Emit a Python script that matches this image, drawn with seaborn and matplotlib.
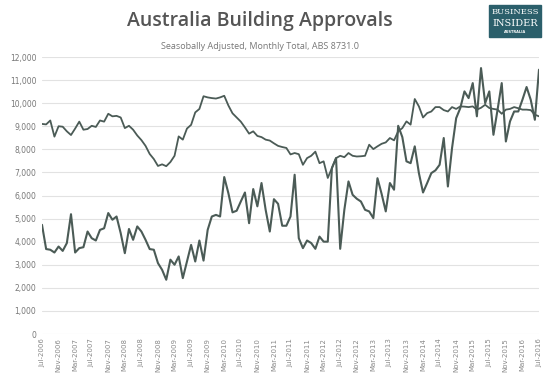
import numpy as np
import pandas as pd
import matplotlib
matplotlib.use('Agg')
import matplotlib.pyplot as plt
import seaborn as sns

# monthly values, Jul-2006 .. Jul-2016
trend = [9100, 9080, 9250, 8550, 9000, 8980, 8780, 8620, 8900, 9200,
         8850, 8880, 9020, 8970, 9250, 9200, 9540, 9430, 9450, 9380,
         8920, 9020, 8850, 8600, 8400, 8150, 7800, 7580, 7280, 7350,
         7270, 7450, 7720, 8560, 8420, 8900, 9060, 9600, 9750, 10300,
         10250, 10220, 10200, 10250, 10320, 9900, 9560, 9380, 9200, 8950,
         8680, 8780, 8580, 8530, 8420, 8380, 8260, 8150, 8100, 8060,
         7780, 7840, 7790, 7330, 7620, 7720, 7900, 7400, 7480, 6760,
         7190, 7620, 7720, 7660, 7840, 7720, 7690, 7700, 7720, 8200,
         8010, 8130, 8240, 8300, 8490, 8390, 8780, 8920, 9210, 9070,
         10180, 9860, 9380, 9570, 9640, 9830, 9830, 9700, 9640, 9830,
         9750, 9860, 9850, 9830, 9860, 9720, 9800, 9930, 9790, 9750,
         9720, 9540, 9720, 9750, 9830, 9780, 9720, 9720, 9700, 9500,
         9430]

apartments = [4730, 3680, 3650, 3530, 3790, 3600, 3940, 5190, 3530, 3720,
              3760, 4440, 4150, 4050, 4510, 4580, 5240, 4950, 5090, 4370,
              3500, 4550, 4080, 4660, 4440, 4080, 3680, 3650, 3070, 2780,
              2350, 3220, 3000, 3360, 2420, 3140, 3860, 3140, 4050, 3180,
              4510, 5090, 5160, 5090, 6800, 6100, 5270, 5340, 5740, 6130,
              4800, 6280, 5530, 6540, 5380, 4440, 5840, 5640, 4690, 4690,
              5090, 6900, 4150, 3720, 4050, 3940, 3690, 4220, 4000, 4000,
              7190, 7620, 3690, 5380, 6610, 6030, 5860, 5740, 5380, 5310,
              5020, 6750, 6070, 5310, 6540, 6250, 9020, 8530, 7480, 7400,
              8130, 6970, 6130, 6540, 6970, 7090, 7330, 8490, 6390, 8050,
              9350, 9790, 10510, 10220, 10870, 9430, 11520, 10000, 10510, 8630,
              9720, 10870, 8340, 9210, 9640, 9640, 10150, 10700, 10150, 9280,
              11450]

months = pd.date_range('2006-07-01', '2016-07-01', freq='MS')
tick_labels = [d.strftime('%b-%Y') for d in months[::4]]

df = pd.DataFrame({'m': np.arange(len(months)), 'trend': trend, 'apartments': apartments})

sns.set_style('white')
fig = plt.figure(figsize=(5.5, 3.73), dpi=100)
ax = fig.add_axes([42 / 550, 1 - 334 / 373, 497 / 550, 277 / 373])

line_col = '#4b5b56'
sns.lineplot(data=df, x='m', y='trend', ax=ax, color=line_col, lw=1.3)
sns.lineplot(data=df, x='m', y='apartments', ax=ax, color=line_col, lw=1.5)

ax.set_xlim(0, 120)
ax.set_ylim(0, 12000)
ax.set_yticks(range(0, 12001, 1000))
ax.set_yticklabels([f'{v:,}' for v in range(0, 12001, 1000)], fontsize=5.5, color='#777777')
ax.set_xticks(df['m'][::4])
ax.set_xticklabels(tick_labels, rotation=90, fontsize=5, color='#888888')
ax.tick_params(axis='y', length=0, pad=4)
ax.tick_params(axis='x', length=0, pad=3)
ax.yaxis.grid(True, color='#e2e2e2', lw=0.8)
ax.set_axisbelow(True)
for s in ax.spines.values():
    s.set_visible(False)
ax.set_xlabel('')
ax.set_ylabel('')

fig.text(0.473, 0.945, 'Australia Building Approvals', ha='center', va='center',
         fontsize=14, color='#555555', family='Open Sans', weight='semibold')
fig.text(0.473, 0.875, 'Seasobally Adjusted, Monthly Total, ABS 8731.0', ha='center',
         va='center', fontsize=6.5, color='#777777', family='Open Sans')

# logo
fig.patches.append(plt.Rectangle((489 / 550, 1 - 37 / 373), 52 / 550, 32 / 373,
                                 transform=fig.transFigure, color='#2b5f6b'))
fig.text(515 / 550, 1 - 12 / 373, 'BUSINESS', ha='center', va='center', fontsize=6,
         color='white', family='DejaVu Serif')
fig.text(515 / 550, 1 - 23 / 373, 'INSIDER', ha='center', va='center', fontsize=7,
         color='white', family='DejaVu Serif')
fig.text(515 / 550, 1 - 32 / 373, 'AUSTRALIA', ha='center', va='center', fontsize=2.5,
         color='white', family='DejaVu Sans', weight='bold')

fig.savefig('out.png', dpi=100, facecolor='white')
